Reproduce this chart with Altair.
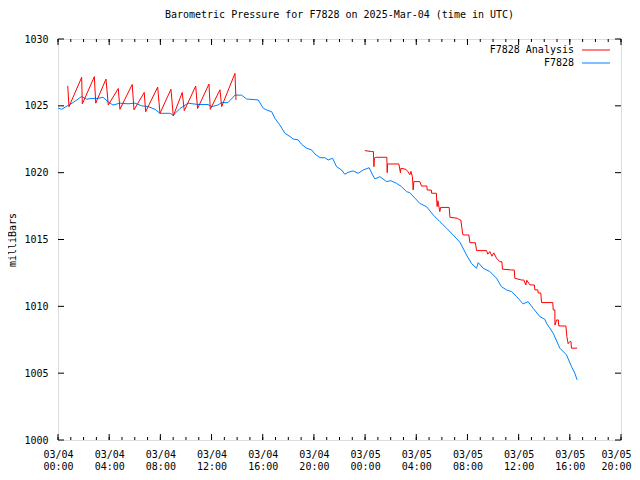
import json
import altair as alt
import pandas as pd

# ---------------- data (hours since 2025-03-04 00:00 UTC, millibars) ----------------
obs_hours = [0.00, 0.29, 0.63, 0.94, 1.41, 1.85, 2.24, 2.66, 3.13, 3.52, 3.91, 4.30, 4.84,
             5.47, 6.02, 6.54, 7.03, 7.58, 7.97, 8.75, 9.01, 9.53, 10.16, 10.94, 11.72,
             12.01, 12.50, 12.79, 13.28, 13.83, 14.35, 14.74, 15.65, 16.04, 16.30, 16.70,
             16.95, 17.34, 17.73, 18.13, 18.38, 18.77, 19.04, 19.43, 19.82, 20.08, 20.47,
             20.86, 21.12, 21.46, 21.77, 22.16, 22.42, 22.68, 23.07, 23.46, 23.85, 24.32,
             24.59, 24.77, 25.16, 25.68, 26.02, 26.46, 26.85, 27.24, 27.50, 27.89, 28.28,
             28.80, 29.32, 29.84, 30.37, 30.88, 31.41, 31.93, 32.32, 32.71, 32.84, 33.23,
             33.75, 34.27, 34.66, 35.05, 35.45, 35.84, 36.35, 36.74, 37.13, 37.66, 38.05,
             38.18, 38.70, 39.22, 39.74, 40.13, 40.39, 40.57]
obs_mbar = [1024.84, 1024.74, 1024.95, 1025.10, 1025.40, 1025.70, 1025.50, 1025.55, 1025.56,
            1025.64, 1025.30, 1025.06, 1025.20, 1025.15, 1025.20, 1025.00, 1024.95, 1024.74,
            1024.44, 1024.44, 1024.30, 1024.80, 1025.20, 1025.10, 1025.10, 1024.94, 1025.06,
            1025.24, 1025.24, 1025.80, 1025.80, 1025.51, 1025.44, 1024.82, 1024.69, 1024.56,
            1024.07, 1023.57, 1022.95, 1022.70, 1022.52, 1022.45, 1022.12, 1021.83, 1021.70,
            1021.40, 1021.12, 1021.12, 1020.95, 1021.08, 1020.45, 1020.20, 1019.88, 1020.03,
            1020.13, 1019.95, 1020.20, 1020.37, 1019.83, 1019.53, 1019.70, 1019.33, 1019.40,
            1019.20, 1018.95, 1018.58, 1018.50, 1018.10, 1017.70, 1017.46, 1016.84, 1016.34,
            1015.84, 1015.34, 1014.80, 1013.84, 1013.20, 1012.85, 1013.27, 1012.85, 1012.60,
            1012.10, 1011.47, 1011.23, 1011.10, 1010.73, 1010.18, 1010.35, 1009.86, 1009.23,
            1009.03, 1008.73, 1007.99, 1006.87, 1006.37, 1005.49, 1005.00, 1004.50]

ana1_hours = [0.76, 0.86, 1.85, 1.90, 2.84, 2.95, 3.75, 3.93, 4.71, 4.84, 5.80, 5.94, 6.74,
              6.85, 7.79, 7.97, 8.83, 9.01, 9.71, 9.87, 10.76, 10.91, 11.80, 11.90, 12.66,
              12.79, 13.83, 13.91]
ana1_mbar = [1026.50, 1024.94, 1027.13, 1025.14, 1027.18, 1025.20, 1027.00, 1025.06, 1026.30,
             1024.74, 1026.60, 1024.70, 1026.00, 1024.56, 1026.40, 1024.44, 1026.24, 1024.24,
             1026.00, 1024.64, 1026.48, 1024.80, 1026.63, 1024.74, 1026.20, 1024.94, 1027.43,
             1025.44]

ana2_hours = [23.98, 24.51, 24.65, 24.69, 24.73, 24.84, 25.55, 25.70, 25.73, 25.75, 26.64,
              26.76, 26.80, 27.19, 27.34, 27.50, 27.58, 27.70, 27.76, 27.81, 28.28, 28.41,
              28.83, 28.85, 29.18, 29.20, 29.57, 29.59, 29.63, 29.69, 29.84, 29.90, 30.57,
              30.63, 31.20, 31.41, 31.48, 31.62, 31.66, 32.11, 32.19, 32.62, 32.71, 33.49,
              33.59, 33.75, 33.91, 34.06, 34.27, 34.53, 34.69, 34.74, 35.45, 35.66, 35.70,
              36.23, 36.41, 36.56, 36.64, 36.88, 37.23, 37.27, 37.50, 37.52, 37.73, 37.79,
              38.44, 38.67, 38.70, 38.83, 38.84, 38.96, 39.10, 39.14, 39.69, 39.77, 39.87,
              40.00, 40.09, 40.13, 40.57]
ana2_mbar = [1021.65, 1021.58, 1021.58, 1020.45, 1021.10, 1021.15, 1021.15, 1021.15, 1020.00,
             1020.65, 1020.65, 1020.00, 1020.33, 1020.25, 1020.08, 1019.85, 1020.10, 1019.70,
             1018.70, 1019.33, 1019.33, 1019.00, 1019.00, 1018.70, 1018.70, 1018.46, 1018.46,
             1018.10, 1017.46, 1017.90, 1017.08, 1017.40, 1017.40, 1016.66, 1016.59, 1016.46,
             1016.46, 1015.47, 1015.34, 1015.34, 1014.76, 1014.76, 1014.17, 1014.17, 1013.90,
             1014.10, 1013.75, 1014.00, 1013.60, 1013.34, 1013.34, 1012.78, 1012.72, 1012.72,
             1012.10, 1011.97, 1011.97, 1011.60, 1011.95, 1011.60, 1011.60, 1011.23, 1011.23,
             1011.00, 1011.00, 1010.28, 1010.28, 1010.28, 1009.73, 1009.73, 1008.60, 1008.98,
             1008.98, 1008.53, 1008.53, 1007.73, 1007.20, 1007.36, 1007.36, 1006.87, 1006.87]

tick_hours = [0, 4, 8, 12, 16, 20, 24, 28, 32, 36, 40, 44]
tick_day = ["03/04"] * 6 + ["03/05"] * 6
tick_time = ["00:00", "04:00", "08:00", "12:00", "16:00", "20:00"] * 2
minor_hours = list(range(0, 45))
y_ticks = [1000, 1005, 1010, 1015, 1020, 1025, 1030]

series_names = ["F7828 Analysis", "F7828"]
series_colors = ["#ff0000", "#0080ff"]

title_text = "Barometric Pressure for F7828 on 2025-Mar-04 (time in UTC)"
y_title = "milliBars"

# ---------------- chart ----------------
FONT = "DejaVu Sans Mono"
W, H = 563, 401
xs = alt.Scale(domain=[0, 44], nice=False, zero=False)
ys = alt.Scale(domain=[1000, 1030], nice=False, zero=False)

obs_df = pd.DataFrame({"h": obs_hours, "p": obs_mbar})
ana_df = pd.DataFrame({
    "h": ana1_hours + ana2_hours,
    "p": ana1_mbar + ana2_mbar,
    "seg": [1] * len(ana1_hours) + [2] * len(ana2_hours),
})

label_expr = "[{d}[indexof({h}, datum.value)], {t}[indexof({h}, datum.value)]]".format(
    d=json.dumps(tick_day), t=json.dumps(tick_time), h=json.dumps(tick_hours))

x_axis = alt.Axis(values=tick_hours, labelExpr=label_expr, tickSize=0, domain=False,
                  grid=False, title=None, labelFont=FONT, labelFontSize=10,
                  labelPadding=9, labelLineHeight=12, labelBaseline="top",
                  labelColor="black", labelFlush=False, labelOverlap=False,
                  labelOffset={"condition": {"test": "datum.value == %d" % tick_hours[-1],
                                             "value": -5}, "value": 0})
y_axis = alt.Axis(values=y_ticks, format="d", tickSize=0, domain=False, grid=False,
                  title=y_title, titleFont=FONT, titleFontSize=10, titleFontWeight="normal",
                  titleColor="black", titlePadding=6, labelFont=FONT, labelFontSize=10,
                  labelColor="black", labelPadding=10, labelFlush=False, labelOverlap=False)

X = alt.X("h:Q", scale=xs, axis=x_axis, title=None)
Y = alt.Y("p:Q", scale=ys, axis=y_axis, title=y_title)

obs = alt.Chart(obs_df).mark_line(color=series_colors[1], strokeWidth=1).encode(x=X, y=Y)
ana = alt.Chart(ana_df).mark_line(color=series_colors[0], strokeWidth=1).encode(
    x=X, y=Y, detail="seg:N")

maj_df = pd.DataFrame({"h": tick_hours})
min_df = pd.DataFrame({"h": minor_hours})
yt_df = pd.DataFrame({"p": y_ticks})

def xticks(df, y0, y1):
    return alt.Chart(df).mark_rule(color="black", strokeWidth=1).encode(
        x=X, y=alt.value(y0), y2=alt.value(y1))

def yticks(x0, x1):
    return alt.Chart(yt_df).mark_rule(color="black", strokeWidth=1).encode(
        y=Y, x=alt.value(x0), x2=alt.value(x1))

ticks = [
    xticks(maj_df, H, H - 6), xticks(min_df, H, H - 3),
    xticks(maj_df, 0, 6), xticks(min_df, 0, 3),
    yticks(0, 6), yticks(W, W - 6),
]

legend = []
for i, (name, col) in enumerate(zip(series_names, series_colors)):
    ly = 11 + 13 * i
    legend.append(alt.Chart(pd.DataFrame({"name": [name]})).mark_text(
        align="right", baseline="middle", font=FONT, fontSize=10, color="black").encode(
        text="name:N", x=alt.value(516), y=alt.value(ly)))
    legend.append(alt.Chart(pd.DataFrame({"name": [name]})).mark_rule(
        color=col, strokeWidth=1).encode(
        x=alt.value(524), x2=alt.value(552), y=alt.value(ly)))

chart = alt.layer(obs, ana, *ticks, *legend).properties(
    width=W, height=H,
    title=alt.Title(title_text, font=FONT, fontSize=10, fontWeight="normal",
                    color="black", offset=14, anchor="middle"),
    padding={"left": 50, "top": 31, "right": 11, "bottom": 30},
    autosize=alt.AutoSizeParams(type="none"),
).configure_view(stroke="black", strokeWidth=1).configure(background="white")

chart.save("out.html", embed_options={"renderer": "svg", "actions": False})
